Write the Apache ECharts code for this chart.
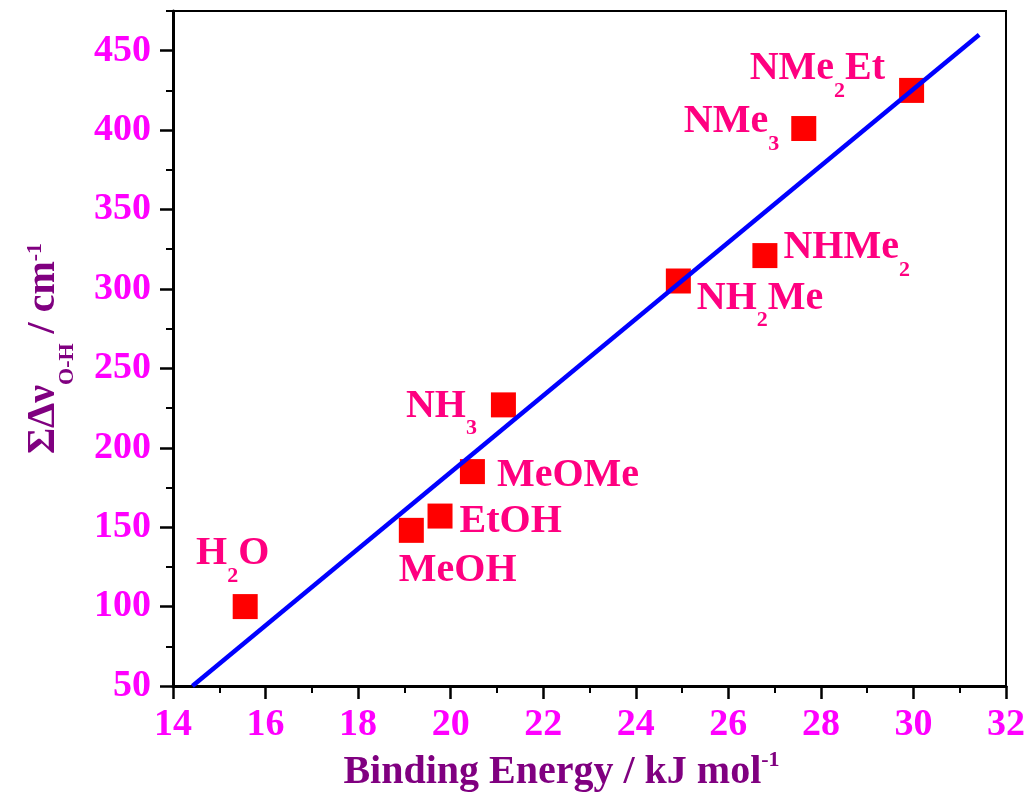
<!DOCTYPE html>
<html>
<head>
<meta charset="utf-8">
<script src="https://cdn.jsdelivr.net/npm/echarts@6/dist/echarts.min.js"></script>
<style>
  html, body { margin: 0; padding: 0; background: #ffffff; }
  #chart { width: 1030px; height: 793px; }
</style>
</head>
<body>
<div id="chart"></div>
<script>
// Complexes and their measured values
const compounds = ['H2O', 'MeOH', 'EtOH', 'MeOMe', 'NH3', 'NH2Me', 'NHMe2', 'NMe3', 'NMe2Et'];
const bindingEnergy = [15.56, 19.15, 19.77, 20.47, 21.14, 24.92, 26.79, 27.63, 29.96];
const shiftSum = [100, 148, 157, 185, 227, 305, 321, 401, 425];

// Linear fit, end points
const fitX = [14.42, 31.42];
const fitY = [50, 460];

// Axis ticks
const xTicks = [14, 16, 18, 20, 22, 24, 26, 28, 30, 32];
const yMajorTicks = [50, 100, 150, 200, 250, 300, 350, 400, 450];
const yMinorTicks = [75, 125, 175, 225, 275, 325, 375, 425, 475];

// Where each point's label sits (pixels, relative to the symbol's box)
const labelPlacement = {
  H2O:    { pos: [0, -60],   align: 'center' },
  MeOH:   { pos: [0, 33],    align: 'left' },
  EtOH:   { pos: [32, -2],   align: 'left' },
  MeOMe:  { pos: [37, -3],   align: 'left' },
  NH3:    { pos: [-14, -6],  align: 'right' },
  NH2Me:  { pos: [31, 10],   align: 'left' },
  NHMe2:  { pos: [31, -15],  align: 'left' },
  NMe3:   { pos: [-12, -14], align: 'right' },
  NMe2Et: { pos: [-14, -29], align: 'right' }
};

const SERIF = '"Liberation Serif", "Times New Roman", serif';
const LABEL_PINK = '#FF0080';
const TITLE_PURPLE = '#800080';
const TICK_MAGENTA = '#FF00FF';

// Chemical formula -> rich text with subscripted digits
function formula(name) {
  return name.split(/(\d)/).filter(Boolean)
    .map(p => /\d/.test(p) ? '{s|' + p + '}' : '{m|' + p + '}').join('');
}

const labelRich = {
  m: { fontFamily: SERIF, fontWeight: 'bold', fontSize: 40, lineHeight: 40, verticalAlign: 'top', color: LABEL_PINK },
  s: { fontFamily: SERIF, fontWeight: 'bold', fontSize: 22, lineHeight: 53, verticalAlign: 'bottom', color: LABEL_PINK }
};

const xTitleRich = {
  m: { fontFamily: SERIF, fontWeight: 'bold', fontSize: 40, lineHeight: 44, verticalAlign: 'bottom', color: TITLE_PURPLE },
  p: { fontFamily: SERIF, fontWeight: 'bold', fontSize: 22, lineHeight: 20, verticalAlign: 'top', color: TITLE_PURPLE }
};

const yTitleRich = {
  m: { fontFamily: SERIF, fontWeight: 'bold', fontSize: 40, lineHeight: 40, verticalAlign: 'top', color: TITLE_PURPLE },
  b: { fontFamily: SERIF, fontWeight: 'bold', fontSize: 22, lineHeight: 54, verticalAlign: 'bottom', color: TITLE_PURPLE },
  p: { fontFamily: SERIF, fontWeight: 'bold', fontSize: 22, lineHeight: 20, verticalAlign: 'top', color: TITLE_PURPLE }
};

const points = compounds.map((name, i) => {
  const pl = labelPlacement[name];
  return {
    name: name,
    value: [bindingEnergy[i], shiftSum[i]],
    label: { position: pl.pos, align: pl.align }
  };
});

const tickLabelStyle = {
  color: TICK_MAGENTA, fontFamily: SERIF, fontWeight: 'bold', fontSize: 38
};

const chart = echarts.init(document.getElementById('chart'), null, { renderer: 'canvas' });

chart.setOption({
  backgroundColor: '#ffffff',
  animation: false,
  grid: {
    left: 173, right: 24, top: 11, bottom: 107,
    containLabel: false,
    outerBoundsMode: 'none',
    show: true, borderColor: '#000000', borderWidth: 2, backgroundColor: 'transparent'
  },
  xAxis: {
    type: 'value',
    min: 14, max: 32, interval: 2,
    axisLine: { lineStyle: { color: '#000000', width: 3 } },
    axisTick: { inside: false, length: 13, lineStyle: { color: '#000000', width: 2.5 }, customValues: xTicks },
    minorTick: { show: true, splitNumber: 2, length: 7, lineStyle: { color: '#000000', width: 2 } },
    splitLine: { show: false },
    axisLabel: Object.assign({ margin: 20, customValues: xTicks }, tickLabelStyle),
    name: '{m|Binding Energy / kJ mol}{p|-1}',
    nameLocation: 'middle',
    nameGap: 62,
    nameTextStyle: { padding: [0, 56, 0, 0], rich: xTitleRich }
  },
  yAxis: [
    {
      type: 'value',
      min: 50, max: 475, interval: 25,
      axisLine: { lineStyle: { color: '#000000', width: 3 } },
      axisTick: { inside: false, length: 13, lineStyle: { color: '#000000', width: 2.5 }, customValues: yMajorTicks },
      splitLine: { show: false },
      axisLabel: Object.assign({ margin: 22, customValues: yMajorTicks }, tickLabelStyle),
      name: '{m|ΣΔν}{b|O-H}{m| / cm}{p|-1}',
      nameLocation: 'middle',
      nameRotate: 90,
      nameGap: 95,
      nameTextStyle: { rich: yTitleRich }
    },
    {
      type: 'value',
      min: 50, max: 475, interval: 25,
      position: 'left',
      axisLine: { show: false },
      axisTick: { inside: false, length: 7, lineStyle: { color: '#000000', width: 2 }, customValues: yMinorTicks },
      splitLine: { show: false },
      axisLabel: { show: false }
    }
  ],
  series: [
    {
      type: 'scatter',
      yAxisIndex: 0,
      symbol: 'rect',
      symbolSize: 25,
      itemStyle: { color: '#FF0000', opacity: 1 },
      label: {
        show: true,
        opacity: 1,
        verticalAlign: 'top',
        formatter: p => formula(p.name),
        rich: labelRich
      },
      data: points,
      z: 2
    },
    {
      type: 'line',
      yAxisIndex: 0,
      data: fitX.map((x, i) => [x, fitY[i]]),
      showSymbol: false,
      symbol: 'none',
      lineStyle: { color: '#0000FF', width: 4.5 },
      z: 3
    }
  ]
});
</script>
</body>
</html>
